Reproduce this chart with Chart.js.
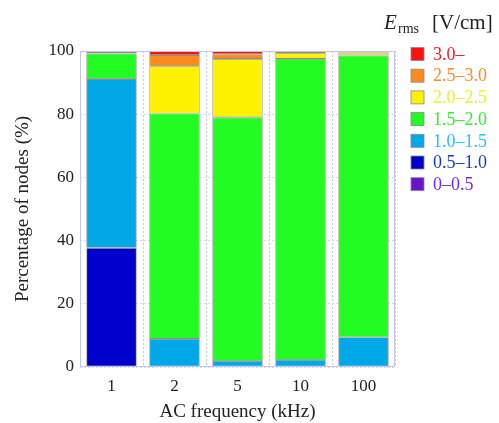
<!DOCTYPE html>
<html>
<head>
<meta charset="utf-8">
<script src="https://cdn.jsdelivr.net/npm/chart.js@4"></script>
<style>
  html, body { margin: 0; padding: 0; background: #fff; }
  #wrap { width: 499px; height: 423px; }
</style>
</head>
<body>
<div id="wrap"><canvas id="chart" width="499" height="423"></canvas></div>
<script>
// categories (AC frequency, kHz)
const frequencies = ["1", "2", "5", "10", "100"];

// percentage of nodes per E_rms bin, bottom to top of the stack
const bin00_05 = [0, 0, 0, 0, 0];
const bin05_10 = [37.7, 0, 0, 0, 0];
const bin10_15 = [53.4, 8.9, 1.9, 2.2, 9.4];
const bin15_20 = [8.1, 71.3, 77.1, 95.3, 89.2];
const bin20_25 = [0.5, 15.0, 18.5, 1.9, 0.9];
const bin25_30 = [0.2, 3.5, 1.5, 0.4, 0.4];
const bin30_up = [0.1, 1.3, 1.0, 0.2, 0.1];

const binLabels = ["0–0.5", "0.5–1.0", "1.0–1.5", "1.5–2.0", "2.0–2.5", "2.5–3.0", "3.0–"];
const binColors = ["#6a12cc", "#0000cc", "#00a8e8", "#22fc22", "#fff200", "#ff8a1c", "#ff1010"];
const textColors = ["#7a2ad8", "#1a3cc8", "#20c4ff", "#33ee33", "#e6f230", "#ff8a2a", "#ff1a1a"];

const serif = "'Liberation Serif', 'DejaVu Serif', serif";
const frameColor = "#c4c4f0";

const series = [bin00_05, bin05_10, bin10_15, bin15_20, bin20_25, bin25_30, bin30_up];

// frame around the plot + custom legend on the right
const frameAndLegend = {
  id: "frameAndLegend",
  afterDraw(chart) {
    const { ctx, chartArea: a } = chart;
    ctx.save();
    ctx.strokeStyle = frameColor;
    ctx.lineWidth = 1;
    ctx.strokeRect(a.left + 0.5, a.top + 0.5, a.right - a.left - 1, a.bottom - a.top - 1);

    // title: E_rms [V/cm]
    ctx.fillStyle = "#222";
    ctx.textBaseline = "alphabetic";
    ctx.textAlign = "left";
    ctx.font = "italic 21px " + serif;
    ctx.fillText("E", 384, 29);
    ctx.font = "14px " + serif;
    ctx.fillText("rms", 398, 33);
    ctx.font = "21px " + serif;
    ctx.fillText("[V/cm]", 432, 29);

    // entries, top (3.0–) to bottom (0–0.5)
    ctx.font = "18px " + serif;
    ctx.textBaseline = "middle";
    for (let i = binLabels.length - 1, row = 0; i >= 0; i--, row++) {
      const y = 54 + row * 21.7;
      ctx.fillStyle = binColors[i];
      ctx.fillRect(411, y - 6.5, 13, 13);
      ctx.strokeStyle = "#8a8a8a";
      ctx.lineWidth = 0.8;
      ctx.strokeRect(411, y - 6.5, 13, 13);
      ctx.fillStyle = textColors[i];
      ctx.fillText(binLabels[i], 433, y + 1);
    }
    ctx.restore();
  }
};

new Chart(document.getElementById("chart"), {
  type: "bar",
  data: {
    labels: frequencies,
    datasets: series.map((d, i) => ({
      label: binLabels[i],
      data: d,
      backgroundColor: binColors[i],
      borderColor: "#8c8c8c",
      borderWidth: 0.8,
      borderSkipped: false,
      categoryPercentage: 1.0,
      barPercentage: 0.8
    }))
  },
  options: {
    responsive: false,
    animation: false,
    layout: { padding: { left: 0, right: 104, top: 51, bottom: 0 } },
    plugins: {
      legend: { display: false },
      tooltip: { enabled: false }
    },
    scales: {
      x: {
        stacked: true,
        afterFit(scale) { scale.height = 56; },
        grid: {
          offset: true,
          color: frameColor,
          drawTicks: false
        },
        border: { display: false, dash: [2, 2] },
        ticks: { color: "#222", font: { family: serif, size: 17 }, padding: 9 },
        title: {
          display: true,
          text: "AC frequency (kHz)",
          color: "#222",
          font: { family: serif, size: 19 },
          padding: { top: 4, bottom: 0 }
        }
      },
      y: {
        stacked: true,
        min: 0,
        max: 100,
        afterFit(scale) { scale.width = 80; },
        grid: { color: "#d4d4f4", drawTicks: false },
        border: { display: false, dash: [2, 2] },
        ticks: {
          stepSize: 20,
          color: "#222",
          font: { family: serif, size: 17 },
          padding: 6
        },
        title: {
          display: true,
          text: "Percentage of nodes (%)",
          color: "#222",
          font: { family: serif, size: 19 },
          padding: { top: 12, bottom: 0 }
        }
      }
    }
  },
  plugins: [frameAndLegend]
});
</script>
</body>
</html>
